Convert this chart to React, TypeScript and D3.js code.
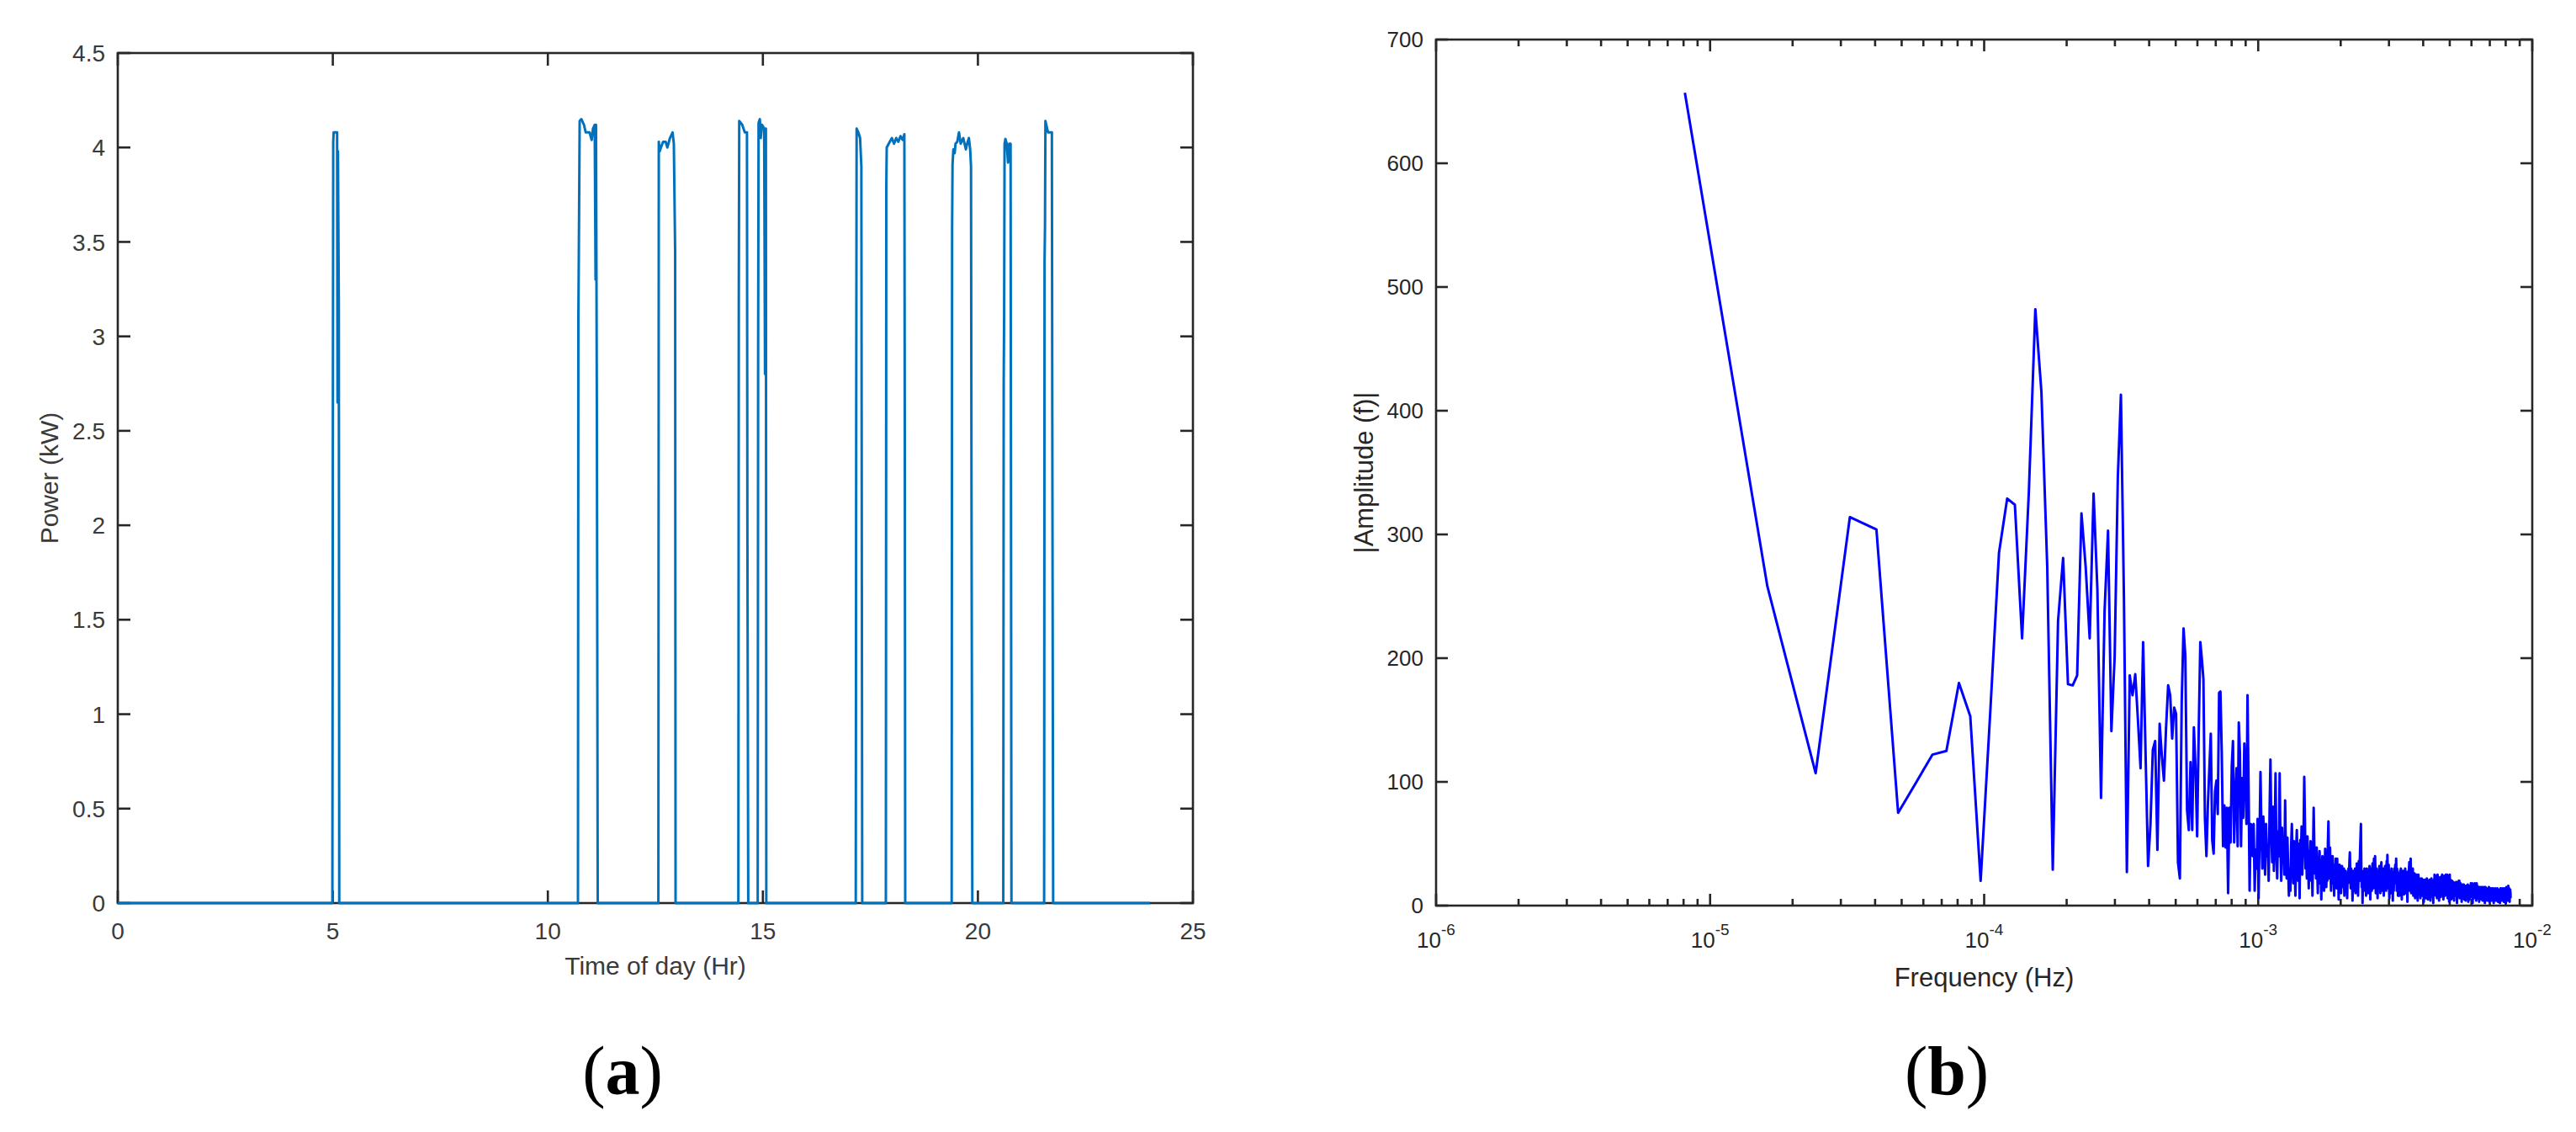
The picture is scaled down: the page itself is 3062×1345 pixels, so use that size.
import React from "react";
import * as d3 from "d3";

// ---------- Panel (a): power vs time of day ----------
const powerHours = [
  0, 4.99, 5.0, 5.01, 5.02, 5.1, 5.11, 5.12, 5.14, 5.15,
  10.7, 10.71, 10.72, 10.74, 10.78, 10.84, 10.88, 10.97, 11.02, 11.05, 11.09, 11.11, 11.12, 11.14, 11.16,
  12.57, 12.58, 12.6, 12.63, 12.68, 12.74, 12.78, 12.84, 12.9, 12.93, 12.96, 12.97,
  14.43, 14.44, 14.45, 14.52, 14.58, 14.63, 14.64, 14.66,
  14.88, 14.89, 14.9, 14.93, 14.95, 14.98, 15.03, 15.05, 15.07, 15.08,
  17.16, 17.17, 17.18, 17.22, 17.26, 17.29, 17.31,
  17.86, 17.87, 17.88, 17.95, 18.0, 18.05, 18.1, 18.15, 18.2, 18.25, 18.29, 18.3, 18.31,
  19.39, 19.4, 19.41, 19.43, 19.46, 19.48, 19.52, 19.56, 19.6, 19.66, 19.69, 19.72, 19.75, 19.79, 19.82, 19.84, 19.85, 19.87,
  20.59, 20.6, 20.61, 20.62, 20.64, 20.67, 20.7, 20.73, 20.76, 20.78,
  21.54, 21.55, 21.56, 21.57, 21.6, 21.63, 21.72, 21.73, 21.75,
  24.0,
];
const powerKW = [
  0, 0, 2.3, 4.03, 4.08, 4.08, 2.65, 3.98, 3.16, 0,
  0, 3.1, 3.42, 4.14, 4.15, 4.12, 4.08, 4.08, 4.04, 4.1, 4.12, 3.3, 4.12, 2.6, 0,
  0, 4.03, 3.98, 4.0, 4.03, 4.03, 4.0, 4.05, 4.08, 4.02, 3.45, 0,
  0, 3.2, 4.14, 4.12, 4.08, 4.08, 2.0, 0,
  0, 2.9, 4.13, 4.15, 4.05, 4.12, 4.1, 2.8, 4.1, 0,
  0, 2.5, 4.1, 4.08, 4.05, 3.9, 0,
  0, 3.8, 4.0, 4.03, 4.05, 4.02, 4.05, 4.03, 4.06, 4.04, 4.07, 2.5, 0,
  0, 3.57, 3.91, 3.99, 3.97, 4.02, 4.03, 4.08, 4.02, 4.05, 4.02, 3.99, 4.02, 4.05, 3.99, 3.9, 2.32, 0,
  0, 2.76, 3.12, 4.02, 4.045, 4.02, 3.92, 4.02, 4.02, 0,
  0, 3.4, 3.58, 4.14, 4.11, 4.08, 4.08, 2.55, 0,
  0,
];
const leftXTicks = [0, 5, 10, 15, 20, 25];
const leftYTicks = [0, 0.5, 1, 1.5, 2, 2.5, 3, 3.5, 4, 4.5];
const leftYTickLabels = ["0", "0.5", "1", "1.5", "2", "2.5", "3", "3.5", "4", "4.5"];

// ---------- Panel (b): amplitude spectrum ----------
const F0 = 8.09e-6; // frequency bin spacing (Hz)
const ampA = [
  657, 258, 107, 314, 304, 75, 100, 122, 125, 180,
  153, 20, 155, 285, 329, 324, 216, 335, 482, 415,
  274, 29, 230, 281, 179, 178, 186, 317, 274, 216,
  333, 256, 87, 238, 303, 141, 201, 346, 413, 250,
  27, 186, 170, 187, 150, 111, 213, 121, 32, 66,
  126, 133, 45, 147, 121, 101, 144, 178, 170, 135,
  160, 155, 35, 22, 165, 224, 202, 77, 61, 116,
  61, 144, 111, 56, 142, 213, 199, 183, 71, 40,
  82, 111, 139, 53, 42, 92, 101, 74, 172, 173,
  124, 48, 81, 47, 79, 10, 79, 51, 113, 133,
];
const ampB = [
  51, 87, 111, 48, 148, 124, 48, 103, 71, 131,
  110, 66, 170, 97, 12, 66, 65, 40, 66, 12,
  45, 30, 70, 6, 55, 108, 60, 30, 72, 50,
  25, 66, 40, 49, 20, 75, 118, 62, 35, 80,
  28, 55, 107, 45, 22, 60, 40, 107, 50, 20,
  63, 35, 47, 25, 85, 40, 22, 55, 30, 8,
  30, 12, 48, 66, 40, 18, 52, 30, 8, 45,
  61, 35, 20, 50, 6, 53, 38, 64, 25, 42,
  60, 104, 70, 30, 48, 22, 56, 35, 14, 44,
  30, 52, 20, 38, 8, 45, 79, 50, 26, 40,
];
const ampC = [
  22, 47, 30, 10, 38, 25, 44, 18, 33, 5, 28, 40, 20, 35, 12, 30, 46, 24, 15, 36,
  20, 50, 68, 40, 22, 47, 30, 12, 35, 25, 40, 18, 28, 8, 33, 20, 38, 26, 14, 38,
  22, 30, 5, 25, 33, 18, 30, 10, 26, 32, 15, 28, 20, 30, 8, 24, 16, 28, 12, 22,
  6, 26, 18, 30, 20, 35, 43, 25, 14, 30, 18, 24, 4, 20, 28, 12, 22, 16, 30, 10,
  25, 18, 34, 20, 28, 8, 24, 36, 20, 30, 45, 55, 66, 30, 15, 28, 2, 20, 26, 12,
];
const ampD = [
  22, 30, 14, 25, 18, 8, 24, 30, 16, 26, 10, 22, 28, 15, 32, 20, 5, 24, 18, 30,
  12, 26, 34, 20, 14, 28, 38, 22, 30, 40, 25, 10, 22, 30, 16, 26, 6, 20, 28, 14,
  24, 32, 18, 26, 10, 22, 30, 35, 20, 28, 12, 24, 18, 30, 8, 22, 27, 15, 32, 20,
  26, 12, 30, 36, 22, 41, 28, 14, 24, 33, 18, 6, 22, 28, 16, 25, 10, 20, 30, 14,
  24, 18, 4, 22, 27, 12, 24, 30, 18, 26, 33, 20, 28, 38, 24, 12, 30, 18, 25, 8,
];
const ampE = [
  20, 26, 14, 22, 8, 18, 28, 12, 24, 30, 16, 22, 5, 18, 25, 12, 20, 28, 14, 23,
  9, 19, 26, 15, 30, 20, 10, 24, 17, 27, 12, 20, 3, 18, 24, 14, 28, 20, 30, 35,
  22, 12, 26, 32, 38, 24, 10, 20, 26, 15, 22, 18, 30, 20, 8, 18, 24, 12, 20, 26,
  14, 6, 19, 24, 16, 22, 10, 18, 25, 14, 20, 4, 17, 22, 25, 15, 20, 9, 18, 22,
  13, 19, 6, 16, 21, 12, 18, 22, 10, 17, 20, 8, 15, 21, 12, 18, 3, 14, 20, 11,
];
const ampF = [
  17, 21, 10, 16, 6, 14, 20, 12, 18, 22, 9, 15, 19, 5, 13, 18, 11, 20, 14, 8,
  16, 21, 12, 17, 4, 14, 19, 10, 16, 22, 13, 18, 7, 15, 20, 11, 17, 2, 14, 19,
  12, 21, 15, 25, 18, 10, 16, 22, 14, 8, 17, 24, 13, 19, 6, 15, 21, 25, 16, 10,
  18, 22, 12, 17, 4, 14, 20, 11, 16, 23, 14, 19, 7, 15, 21, 12, 18, 24, 15, 25,
  20, 10, 17, 22, 13, 5, 16, 21, 12, 18, 24, 14, 19, 8, 16, 22, 13, 25, 17, 10,
];
const ampG = [
  18, 23, 12, 17, 25, 15, 6, 16, 21, 11, 18, 24, 14, 19, 3, 13, 20, 25, 15, 10,
  17, 21, 12, 16, 5, 14, 19, 10, 15, 20, 12, 17, 6, 13, 18, 9, 15, 19, 11, 16,
  4, 12, 17, 10, 14, 18, 8, 13, 17, 11, 15, 19, 9, 14, 19, 12, 2, 11, 16, 13,
  18, 8, 14, 17, 10, 15, 20, 12, 16, 20, 13, 6, 12, 16, 10, 14, 18, 9, 13, 17,
  11, 15, 3, 12, 16, 9, 14, 17, 11, 15, 7, 13, 16, 10, 14, 17, 12, 5, 12, 15,
];
const ampH = [
  9, 13, 16, 10, 14, 4, 11, 15, 9, 13, 16, 10, 14, 6, 12, 15, 9, 13, 17, 11,
  14, 3, 11, 15, 10, 13, 16, 9, 12, 5, 11, 14, 9, 13, 16, 10, 14, 18, 12, 15,
  7, 12, 16, 11, 14, 18, 10, 13, 2, 11, 15, 9, 13, 17, 11, 14, 6, 12, 16, 10,
  13, 18, 12, 15, 8, 12, 16, 10, 14, 17, 11, 4, 10, 14, 18, 12, 15, 9, 13, 16,
  10, 13, 6, 11, 14, 9, 12, 15, 10, 13, 3, 10, 14, 9, 12, 15, 10, 13, 7, 11,
];
const ampI = [
  14, 9, 12, 15, 10, 13, 5, 10, 13, 8, 12, 15, 10, 13, 4, 10, 14, 9, 12, 15,
  10, 13, 6, 11, 14, 9, 12, 15, 10, 2, 9, 13, 10, 12, 15, 9, 12, 6, 10, 13,
  9, 12, 14, 10, 13, 4, 10, 13, 8, 11, 14, 10, 12, 6, 10, 13, 9, 12, 15, 10,
  13, 3, 9, 12, 8, 11, 14, 10, 12, 6, 10, 13, 9, 11, 14, 10, 12, 4, 9, 12,
  8, 11, 14, 10, 12, 5, 10, 13, 9, 11, 14, 9, 12, 2, 9, 12, 8, 11, 13, 9,
];
const ampJ = [
  12, 6, 10, 13, 9, 11, 14, 10, 12, 4, 9, 12, 8, 11, 13, 9, 11, 5, 9, 12,
  8, 11, 14, 9, 12, 3, 9, 12, 8, 10, 13, 9, 11, 5, 9, 12, 8, 10, 13, 9,
  11, 2, 8, 11, 9, 12, 14, 9, 11, 5, 9, 12, 8, 10, 13, 9, 11, 4, 8, 11,
  9, 12, 14, 9, 11, 6, 9, 12, 8, 10, 13, 9, 11, 3, 8, 11, 9, 12, 14, 9,
  11, 5, 9, 12, 8, 10, 13, 9, 11, 2, 8, 11, 9, 12, 15, 10, 12, 5, 9, 12,
  8, 11, 14, 9, 11, 4, 9, 12, 8, 11, 16, 10, 12, 6, 9, 13, 8, 11, 14, 9,
  12, 3, 9, 12, 8, 10, 13, 9, 11, 6,
];
const rightXTickExps = [-6, -5, -4, -3, -2];
const rightYTicks = [0, 100, 200, 300, 400, 500, 600, 700];

const FONT = "'Liberation Sans', Arial, Helvetica, sans-serif";
const AXIS = "#262626";

export default function App() {
  // Panel (a) geometry
  const aL = 140, aR = 1418, aT = 63, aB = 1073;
  const xa = d3.scaleLinear().domain([0, 25]).range([aL, aR]);
  const ya = d3.scaleLinear().domain([0, 4.5]).range([aB, aT]);
  const lineA = d3.line<number>().x((_, i) => xa(powerHours[i])).y((d) => ya(d));
  const pathA = lineA(powerKW) || "";

  // Panel (b) geometry
  const bL = 1707, bR = 3010, bT = 47, bB = 1076;
  const xb = d3.scaleLog().domain([1e-6, 1e-2]).range([bL, bR]);
  const yb = d3.scaleLinear().domain([0, 700]).range([bB, bT]);
  const amps = [...ampA, ...ampB, ...ampC, ...ampD, ...ampE, ...ampF, ...ampG, ...ampH, ...ampI, ...ampJ];
  const lineB = d3.line<number>().x((_, i) => xb((i + 1) * F0)).y((d) => yb(d));
  const pathB = lineB(amps) || "";

  const minorB: number[] = [];
  for (let e = -6; e < -2; e++) for (let m = 2; m <= 9; m++) minorB.push(m * Math.pow(10, e));

  const tl = 15; // tick length
  return (
    <svg width={3062} height={1345} style={{ position: "absolute", left: 0, top: 0, background: "#fff" }}>
      <rect x={0} y={0} width={3062} height={1345} fill="#fff" />
      {/* ---------- Panel (a) ---------- */}
      <g stroke={AXIS} strokeWidth={2.6} fill="none">
        <rect x={aL} y={aT} width={aR - aL} height={aB - aT} />
        {leftXTicks.map((t) => (
          <g key={"ax" + t}>
            <line x1={xa(t)} x2={xa(t)} y1={aB} y2={aB - tl} />
            <line x1={xa(t)} x2={xa(t)} y1={aT} y2={aT + tl} />
          </g>
        ))}
        {leftYTicks.map((t) => (
          <g key={"ay" + t}>
            <line x1={aL} x2={aL + tl} y1={ya(t)} y2={ya(t)} />
            <line x1={aR} x2={aR - tl} y1={ya(t)} y2={ya(t)} />
          </g>
        ))}
      </g>
      <g fontFamily={FONT} fontSize={28} fill="#3a3a3a">
        {leftXTicks.map((t) => (
          <text key={"axl" + t} x={xa(t)} y={1116} textAnchor="middle">{t}</text>
        ))}
        {leftYTicks.map((t, i) => (
          <text key={"ayl" + t} x={aL - 15} y={ya(t)} dy="0.36em" textAnchor="end">{leftYTickLabels[i]}</text>
        ))}
        <text x={(aL + aR) / 2} y={1158} textAnchor="middle" fontSize={30}>Time of day (Hr)</text>
        <text transform={`translate(69,${(aT + aB) / 2}) rotate(-90)`} textAnchor="middle" fontSize={30}>Power (kW)</text>
      </g>
      <path d={pathA} fill="none" stroke="#0072BD" strokeWidth={3} strokeLinejoin="round" />
      <text x={740} y={1300} textAnchor="middle" fontFamily="'Liberation Serif', 'Times New Roman', serif" fontSize={82} fill="#000">
        (<tspan fontWeight="bold">a</tspan>)
      </text>

      {/* ---------- Panel (b) ---------- */}
      <g stroke={AXIS} strokeWidth={2.6} fill="none">
        <rect x={bL} y={bT} width={bR - bL} height={bB - bT} />
        {rightXTickExps.map((e) => (
          <g key={"bx" + e}>
            <line x1={xb(Math.pow(10, e))} x2={xb(Math.pow(10, e))} y1={bB} y2={bB - 14} />
            <line x1={xb(Math.pow(10, e))} x2={xb(Math.pow(10, e))} y1={bT} y2={bT + 14} />
          </g>
        ))}
        {minorB.map((f, i) => (
          <g key={"bm" + i}>
            <line x1={xb(f)} x2={xb(f)} y1={bB} y2={bB - 8} />
            <line x1={xb(f)} x2={xb(f)} y1={bT} y2={bT + 8} />
          </g>
        ))}
        {rightYTicks.map((t) => (
          <g key={"by" + t}>
            <line x1={bL} x2={bL + 14} y1={yb(t)} y2={yb(t)} />
            <line x1={bR} x2={bR - 14} y1={yb(t)} y2={yb(t)} />
          </g>
        ))}
      </g>
      <g fontFamily={FONT} fontSize={26} fill={AXIS}>
        {rightXTickExps.map((e) => (
          <text key={"bxl" + e} x={xb(Math.pow(10, e))} y={1126} textAnchor="middle">
            10<tspan fontSize={19} dy={-15}>{String(e)}</tspan>
          </text>
        ))}
        {rightYTicks.map((t) => (
          <text key={"byl" + t} x={bL - 15} y={yb(t)} dy="0.36em" textAnchor="end">{t}</text>
        ))}
        <text x={(bL + bR) / 2} y={1172} textAnchor="middle" fontSize={31}>Frequency (Hz)</text>
        <text transform={`translate(1632,${(bT + bB) / 2}) rotate(-90)`} textAnchor="middle" fontSize={31}>|Amplitude (f)|</text>
      </g>
      <path d={pathB} fill="none" stroke="#0000FF" strokeWidth={3} strokeLinejoin="round" />
      <text x={2314} y={1300} textAnchor="middle" fontFamily="'Liberation Serif', 'Times New Roman', serif" fontSize={82} fill="#000">
        (<tspan fontWeight="bold">b</tspan>)
      </text>
    </svg>
  );
}
